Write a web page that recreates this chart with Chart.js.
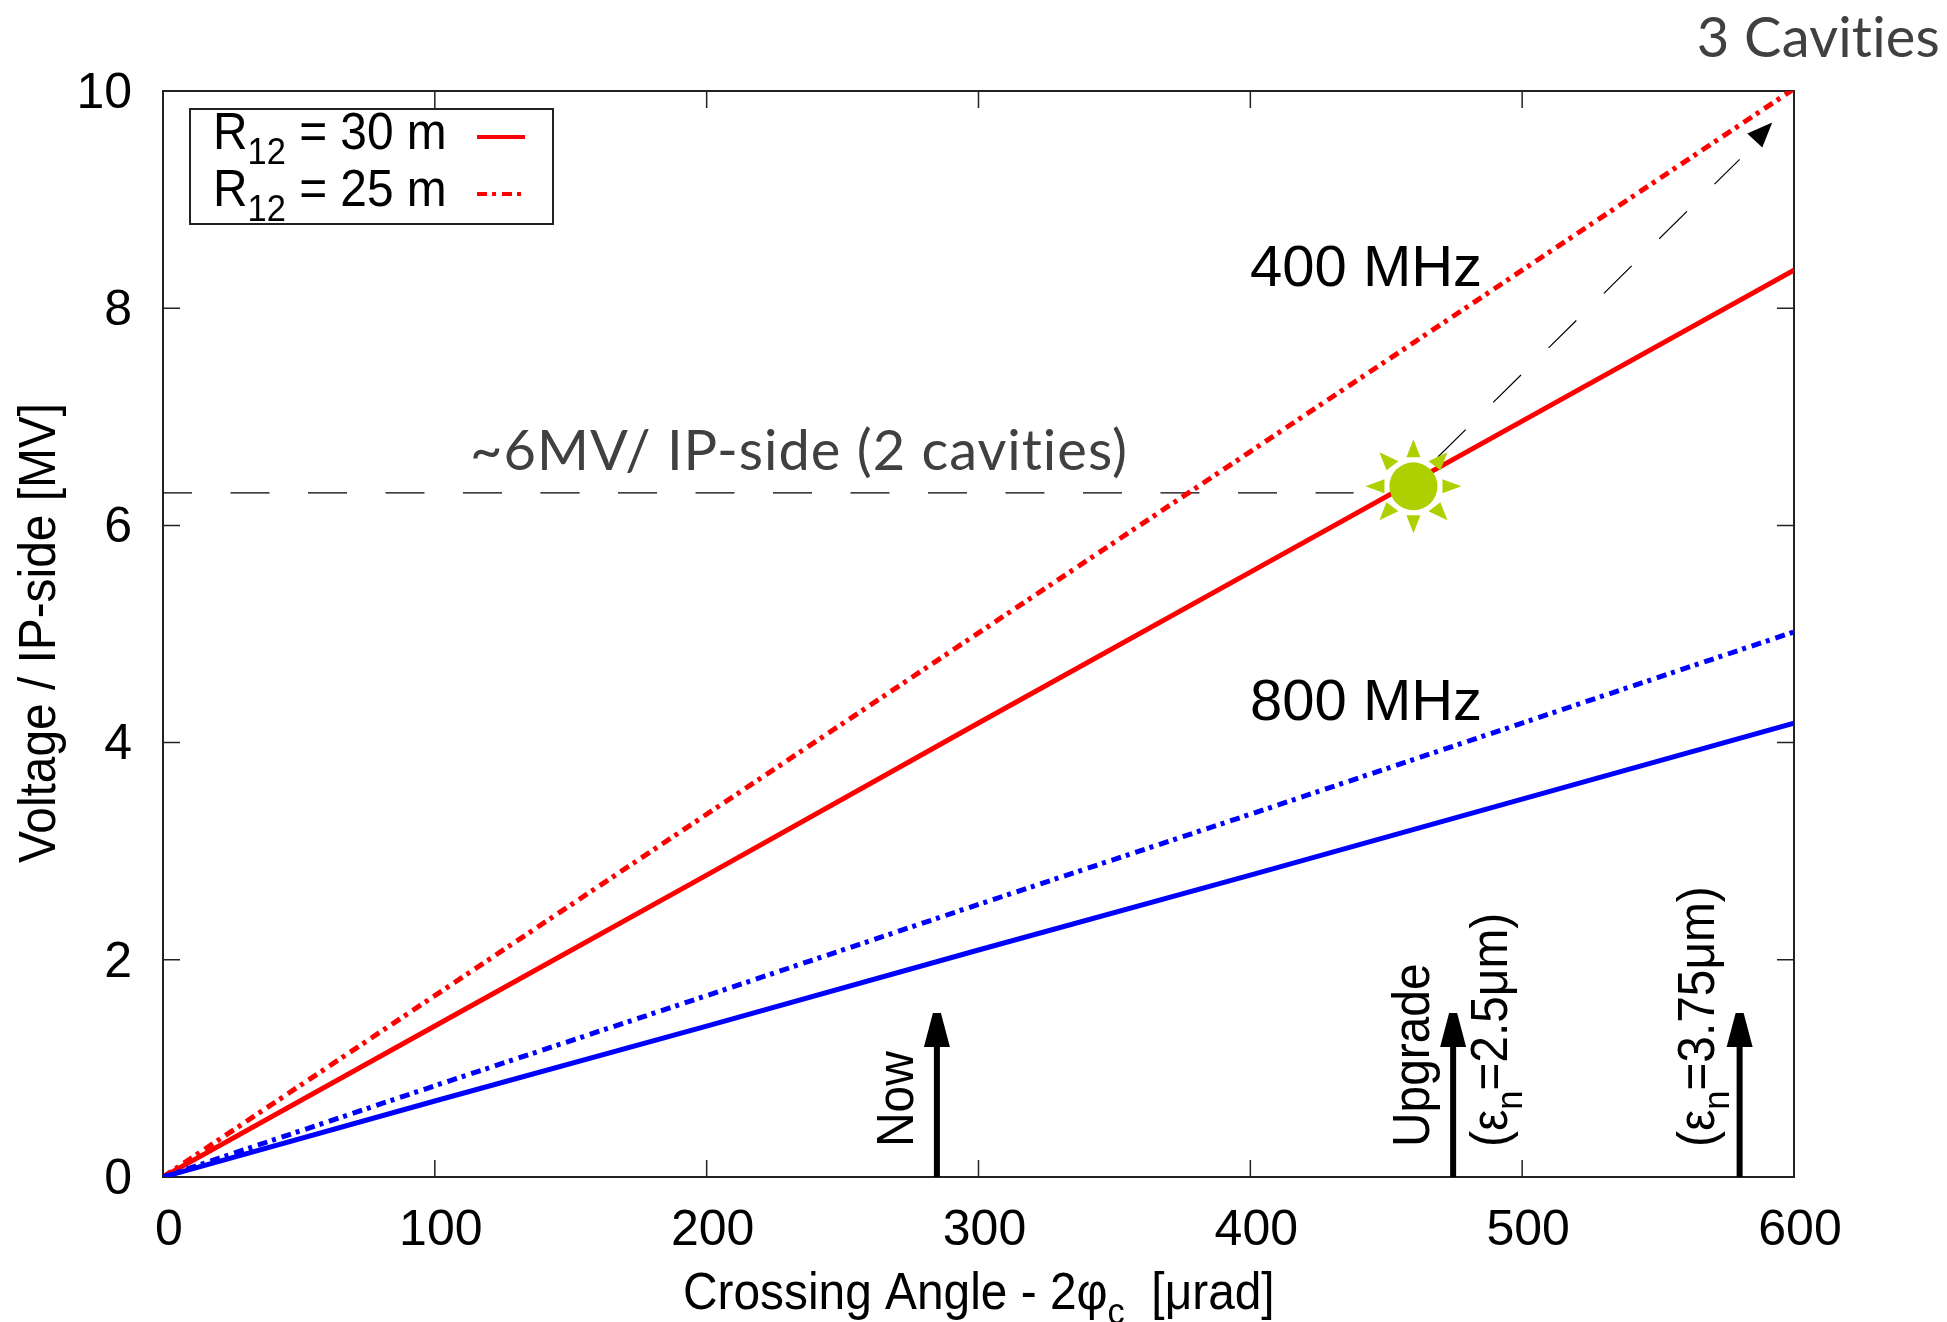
<!DOCTYPE html>
<html>
<head>
<meta charset="utf-8">
<title>Crossing angle voltage</title>
<script src="https://cdn.jsdelivr.net/npm/chart.js@4/dist/chart.umd.min.js"></script>
<style>
  html, body { margin: 0; padding: 0; background: #fff; }
  canvas { display: block; }
</style>
</head>
<body>
<canvas id="chart" width="1947" height="1322"></canvas>
<script>
// Values
const crossingAngles = [0, 100, 200, 300, 400, 500, 600];
const red30m = [0, 1.39, 2.78, 4.18, 5.57, 6.96, 8.35];
const red25m = [0, 1.67, 3.34, 5.01, 6.68, 8.35, 10.02];
const blue30m = [0, 0.70, 1.39, 2.09, 2.78, 3.48, 4.18];
const blue25m = [0, 0.84, 1.67, 2.51, 3.34, 4.18, 5.02];
const xTicks = [0, 100, 200, 300, 400, 500, 600];
const yTicks = [0, 2, 4, 6, 8, 10];
const scenarioAngles = [284.7, 474.6, 580];
const scenarioTop = 1.51;
const limitLineX = [0, 438];
const limitLineY = [6.3, 6.3];
const growthLineX = [469, 580];
const growthLineY = [6.63, 9.37];
const growthTip = [592, 9.71];
const sunPoint = [460, 6.36];

const BLACK = '#000';
const GREY_TEXT = '#404040';
const SANS = '"Liberation Sans", Arial, sans-serif';
const SOFT = 'Lato, "Open Sans", sans-serif';
const DOTTED = [10, 5, 4, 6];
const SUN_GREEN = '#aecf00';

function lineData(xs, ys) {
    return xs.map((x, i) => ({ x: x, y: ys[i] }));
}

// Write a text made of normal and subscript runs, optionally turned 90 degrees.
// squeeze narrows the glyphs, the gnuplot text in the picture is tall and thin.
function drawRuns(ctx, runs, x, y, size, rotated, squeeze = 0.92) {
    ctx.save();
    ctx.translate(x, y);
    if (rotated) ctx.rotate(-Math.PI / 2);
    ctx.scale(squeeze, 1);
    ctx.fillStyle = BLACK;
    ctx.textAlign = 'left';
    ctx.textBaseline = 'alphabetic';
    let pos = 0;
    runs.forEach(run => {
        const isSub = run[1];
        ctx.font = (isSub ? size * 0.72 : size) + 'px ' + SANS;
        ctx.fillText(run[0], pos, isSub ? size * 0.29 : 0);
        pos += ctx.measureText(run[0]).width;
    });
    ctx.restore();
}

const framePlugin = {
    id: 'frame',
    beforeDatasetsDraw(chart) {
        const { ctx, chartArea: a, scales } = chart;
        ctx.save();
        ctx.strokeStyle = '#222';
        ctx.lineWidth = 2;
        ctx.strokeRect(a.left, a.top, a.right - a.left, a.bottom - a.top);
        ctx.lineWidth = 1.5;
        ctx.beginPath();
        xTicks.slice(1, -1).forEach(v => {
            const px = scales.x.getPixelForValue(v);
            ctx.moveTo(px, a.bottom); ctx.lineTo(px, a.bottom - 17);
            ctx.moveTo(px, a.top); ctx.lineTo(px, a.top + 17);
        });
        yTicks.slice(1, -1).forEach(v => {
            const py = scales.y.getPixelForValue(v);
            ctx.moveTo(a.left, py); ctx.lineTo(a.left + 17, py);
            ctx.moveTo(a.right, py); ctx.lineTo(a.right - 17, py);
        });
        ctx.stroke();
        ctx.restore();
    }
};

const notesPlugin = {
    id: 'notes',
    afterDatasetsDraw(chart) {
        const { ctx, scales } = chart;
        const px = v => scales.x.getPixelForValue(v);
        const py = v => scales.y.getPixelForValue(v);

        // arrow heads on the three scenario arrows
        ctx.save();
        ctx.fillStyle = BLACK;
        scenarioAngles.forEach(a => {
            const x = px(a), y = py(scenarioTop);
            ctx.beginPath();
            ctx.moveTo(x - 4, y);
            ctx.lineTo(x + 4, y);
            ctx.lineTo(x + 13, y + 34);
            ctx.lineTo(x - 13, y + 34);
            ctx.closePath();
            ctx.fill();
        });

        // head of the dashed arrow
        const tx = px(growthTip[0]), ty = py(growthTip[1]);
        ctx.beginPath();
        ctx.moveTo(tx, ty);
        ctx.lineTo(tx - 25, ty + 11);
        ctx.lineTo(tx - 10, ty + 25);
        ctx.closePath();
        ctx.fill();

        // the sun marker
        const sx = px(sunPoint[0]), sy = py(sunPoint[1]);
        ctx.fillStyle = SUN_GREEN;
        ctx.beginPath();
        ctx.ellipse(sx, sy, 24, 24, 0, 0, Math.PI * 2);
        ctx.fill();
        const rays = [
            [0, -47, -7, -29, 7, -29], [0, 47, -7, 29, 7, 29],
            [-48, 0, -29, -7, -29, 7], [48, 0, 29, -7, 29, 7],
            [-34, -34, -15, -25, -27, -16], [34, -34, 15, -25, 27, -16],
            [-34, 34, -15, 25, -27, 16], [34, 34, 15, 25, 27, 16]
        ];
        rays.forEach(r => {
            ctx.beginPath();
            ctx.moveTo(sx + r[0], sy + r[1]);
            ctx.lineTo(sx + r[2], sy + r[3]);
            ctx.lineTo(sx + r[4], sy + r[5]);
            ctx.closePath();
            ctx.fill();
        });
        ctx.restore();

        // frequency labels and the upper texts
        drawRuns(ctx, [['400 MHz']], 1250, 286, 58, false, 1);
        drawRuns(ctx, [['800 MHz']], 1250, 720, 58, false, 1);
        ctx.save();
        ctx.fillStyle = GREY_TEXT;
        ctx.textBaseline = 'alphabetic';
        ctx.font = '400 56px ' + SOFT;
        ctx.textAlign = 'left';
        ctx.letterSpacing = '1px';
        ctx.fillText('~6MV/ IP-side (2 cavities)', 470, 470);
        ctx.textAlign = 'right';
        ctx.letterSpacing = '0.2px';
        ctx.fillText('3 Cavities', 1940, 57);
        ctx.restore();

        // turned labels beside the arrows
        drawRuns(ctx, [['Now']], 913, 1147, 52, true);
        drawRuns(ctx, [['Upgrade']], 1429, 1147, 52, true);
        drawRuns(ctx, [['(ε'], ['n', true], ['=2.5μm)']], 1507, 1147, 52, true);
        drawRuns(ctx, [['(ε'], ['n', true], ['=3.75μm)']], 1714, 1147, 52, true);

        // axis titles
        drawRuns(ctx, [['Crossing Angle - 2φ'], ['c', true], ['  [μrad]']], 683, 1309, 52);
        drawRuns(ctx, [['Voltage / IP-side [MV]']], 55, 863, 52, true);

        // legend box
        ctx.save();
        ctx.fillStyle = '#fff';
        ctx.strokeStyle = '#222';
        ctx.lineWidth = 2;
        ctx.fillRect(190, 109, 363, 115);
        ctx.strokeRect(190, 109, 363, 115);
        ctx.strokeStyle = '#ff0000';
        ctx.lineWidth = 4;
        ctx.beginPath();
        ctx.moveTo(477, 137); ctx.lineTo(525, 137);
        ctx.stroke();
        ctx.setLineDash(DOTTED);
        ctx.beginPath();
        ctx.moveTo(477, 194); ctx.lineTo(525, 194);
        ctx.stroke();
        ctx.restore();
        drawRuns(ctx, [['R'], ['12', true], [' = 30 m']], 213, 149, 52);
        drawRuns(ctx, [['R'], ['12', true], [' = 25 m']], 213, 206, 52);
    }
};

function curve(label, ys, color, dash) {
    return {
        label: label,
        data: lineData(crossingAngles, ys),
        borderColor: color,
        borderWidth: 5,
        borderDash: dash,
        pointRadius: 0,
        tension: 0,
        fill: false
    };
}

function guide(xs, ys, width, dash, dashOffset = 0) {
    return {
        label: '',
        data: lineData(xs, ys),
        borderColor: BLACK,
        borderWidth: width,
        borderDash: dash,
        borderDashOffset: dashOffset,
        pointRadius: 0,
        tension: 0,
        fill: false
    };
}

new Chart(document.getElementById('chart').getContext('2d'), {
    type: 'line',
    data: {
        datasets: [
            curve('800 MHz, R12 = 30 m', blue30m, '#0000ff', []),
            curve('800 MHz, R12 = 25 m', blue25m, '#0000ff', DOTTED),
            curve('400 MHz, R12 = 30 m', red30m, '#ff0000', []),
            curve('400 MHz, R12 = 25 m', red25m, '#ff0000', DOTTED),
            guide(limitLineX, limitLineY, 1.2, [39, 38.5], 10),
            guide(growthLineX, growthLineY, 1.2, [39, 38.7]),
            ...scenarioAngles.map(a => guide([a, a], [0, scenarioTop - 0.3], 6, []))
        ]
    },
    options: {
        responsive: false,
        animation: false,
        layout: { padding: { top: 91, right: 153, left: 0, bottom: 0 } },
        plugins: {
            legend: { display: false },
            title: { display: false },
            tooltip: { enabled: false }
        },
        scales: {
            x: {
                type: 'linear',
                min: 0,
                max: 600,
                afterBuildTicks(scale) { scale.ticks = xTicks.map(v => ({ value: v })); },
                afterFit(scale) { scale.height = 145; },
                grid: { display: false },
                border: { display: false },
                ticks: {
                    color: BLACK,
                    padding: 16,
                    labelOffset: 6,
                    maxRotation: 0,
                    font: { family: SANS, size: 50 }
                }
            },
            y: {
                min: 0,
                max: 10,
                afterBuildTicks(scale) { scale.ticks = yTicks.map(v => ({ value: v })); },
                afterFit(scale) { scale.width = 163; },
                grid: { display: false },
                border: { display: false },
                ticks: {
                    color: BLACK,
                    padding: 23,
                    labelOffset: 3,
                    font: { family: SANS, size: 50 }
                }
            }
        }
    },
    plugins: [framePlugin, notesPlugin]
});
</script>
</body>
</html>
